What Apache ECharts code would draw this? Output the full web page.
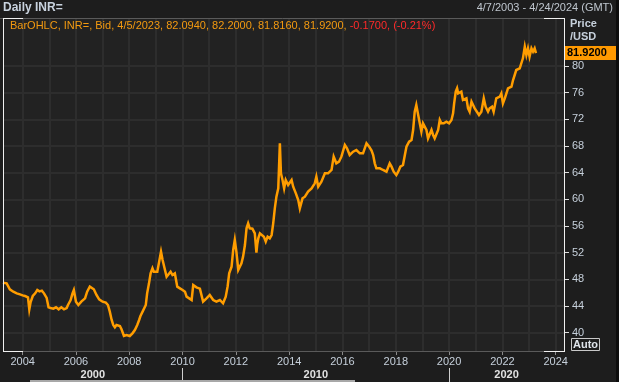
<!DOCTYPE html>
<html><head><meta charset="utf-8">
<script src="https://cdn.jsdelivr.net/npm/echarts@6/dist/echarts.min.js"></script>
<style>html,body{margin:0;padding:0;background:#1d1d1d;overflow:hidden}#c{width:619px;height:382px}</style>
</head><body><div id="c"></div>
<script>
// ---- data (decimal years and INR per USD) ----
const dateYears = [
2003.26,2003.4,2003.52,2003.65,2003.78,2003.9,2004.0,2004.09,2004.2,2004.25,2004.3,2004.38,2004.47,2004.55,2004.63,2004.72,2004.8,2004.9,2004.97,
2005.05,2005.15,2005.25,2005.35,2005.45,2005.55,2005.65,2005.7,2005.8,2005.87,2005.92,2006.0,2006.09,2006.2,2006.34,2006.42,2006.52,2006.59,2006.67,2006.77,2006.87,
2007.0,2007.12,2007.2,2007.27,2007.34,2007.4,2007.46,2007.52,2007.65,2007.71,2007.8,2007.9,2008.02,2008.12,2008.21,2008.3,2008.37,2008.42,2008.5,2008.55,2008.62,2008.67,2008.74,2008.8,2008.87,2008.92,2008.99,
2009.05,2009.12,2009.19,2009.25,2009.31,2009.4,2009.46,2009.55,2009.62,2009.71,2009.8,2009.9,2010.0,2010.09,2010.15,2010.21,2010.34,2010.4,2010.52,2010.65,2010.77,2010.9,
2011.02,2011.15,2011.27,2011.4,2011.52,2011.62,2011.69,2011.75,2011.84,2011.9,2011.96,2012.02,2012.09,2012.15,2012.21,2012.27,2012.34,2012.4,2012.46,2012.52,2012.62,2012.71,2012.77,2012.8,2012.84,2012.9,2012.96,
2013.05,2013.12,2013.19,2013.27,2013.34,2013.4,2013.46,2013.52,2013.59,2013.65,2013.69,2013.75,2013.81,2013.87,2013.96,2014.02,2014.09,2014.15,2014.25,2014.34,2014.4,2014.5,2014.59,2014.71,2014.84,2014.96,
2015.02,2015.09,2015.21,2015.34,2015.46,2015.59,2015.67,2015.77,2015.87,2015.96,2016.09,2016.17,2016.27,2016.4,2016.52,2016.65,2016.77,2016.9,2017.0,2017.09,2017.15,2017.21,2017.27,2017.4,2017.52,2017.65,2017.77,2017.84,2017.92,
2018.02,2018.09,2018.17,2018.27,2018.34,2018.4,2018.5,2018.59,2018.65,2018.71,2018.77,2018.84,2018.9,2018.96,2019.02,2019.09,2019.15,2019.21,2019.27,2019.34,2019.4,2019.46,2019.52,2019.59,2019.65,2019.71,2019.8,2019.9,
2020.0,2020.09,2020.15,2020.19,2020.25,2020.3,2020.34,2020.4,2020.46,2020.52,2020.59,2020.65,2020.71,2020.77,2020.84,2020.9,2020.96,2021.02,2021.12,2021.21,2021.3,2021.37,2021.46,2021.52,2021.61,2021.67,2021.77,2021.84,2021.9,2021.96,
2022.02,2022.09,2022.15,2022.21,2022.27,2022.34,2022.4,2022.46,2022.52,2022.59,2022.65,2022.71,2022.77,2022.84,2022.9,2022.96,2023.02,2023.09,2023.15,2023.21,2023.26
];
const prices = [
47.5,47.4,46.5,46.15,45.9,45.75,45.6,45.5,45.3,43.5,44.6,45.5,45.9,46.4,46.2,46.3,45.9,45.2,43.8,
43.7,43.6,43.8,43.5,43.8,43.5,43.7,44.15,44.9,45.9,46.4,44.65,44.15,44.65,45.15,46.15,46.9,47.0,46.5,45.65,45.0,
44.65,44.5,44.15,43.15,41.9,41.15,40.8,41.15,41.0,40.5,39.5,39.65,39.5,39.9,40.4,41.15,41.9,42.5,43.15,42.9,44.15,45.9,47.4,48.9,49.65,49.15,48.9,
49.15,50.65,52.15,50.9,49.9,48.4,48.65,49.15,48.65,48.9,46.9,46.65,46.4,46.15,45.4,45.15,44.9,47.15,46.8,46.6,44.65,45.15,
45.65,44.9,44.65,44.9,44.4,45.4,46.9,48.9,49.9,52.4,53.9,52.15,49.4,49.4,50.4,51.4,53.15,55.65,56.4,55.65,55.6,54.9,52.0,53.2,54.15,54.9,54.65,
54.4,53.65,54.4,54.15,54.65,56.4,58.65,60.4,61.65,68.4,63.9,62.9,61.65,62.9,62.15,62.4,62.9,61.9,60.9,59.9,58.65,60.15,60.4,61.15,61.65,62.4,
63.4,61.9,62.65,63.9,63.9,64.4,66.4,65.4,65.65,66.4,68.15,67.65,66.65,67.15,67.4,66.9,66.9,68.4,67.9,67.3,66.65,65.4,64.65,64.65,64.4,64.15,65.4,64.9,64.15,
63.65,64.15,64.9,65.15,66.65,67.9,68.65,68.9,70.4,73.15,74.15,72.65,71.4,70.15,71.4,71.4,70.4,69.15,69.4,70.4,69.65,69.15,68.9,70.4,71.9,71.4,71.4,71.65,
71.4,71.9,72.9,74.4,76.15,76.65,75.9,75.65,76.15,74.9,74.65,75.15,73.65,73.15,74.65,74.15,73.65,73.4,72.65,73.15,75.15,73.9,73.15,73.65,73.9,73.15,75.15,74.9,75.4,75.9,
74.4,75.15,75.9,76.65,76.4,76.9,77.9,78.15,79.4,79.4,79.65,79.9,81.15,82.9,81.65,82.65,81.4,82.65,82.15,82.65,81.92
];
const yTicks = [40,44,48,52,56,60,64,68,72,76,80];
const gridYears = [2004,2005,2006,2007,2008,2009,2010,2011,2012,2013,2014,2015,2016,2017,2018,2019,2020,2021,2022,2023,2024];
const labelYears = [2004,2006,2008,2010,2012,2014,2016,2018,2020,2022,2024];
const decadeNames = ['2000','2010','2020'];
const decadeStarts = [2010,2020];
const rangeStart = '2003-04-07', rangeEnd = '2024-04-24';
const headerTitle = 'Daily INR=';
const headerRange = '4/7/2003 - 4/24/2024 (GMT)';
const lastBar = {date:'4/5/2023', open:'82.0940', high:'82.2000', low:'81.8160', close:'81.9200', chg:'-0.1700', pct:'(-0.21%)'};

function yearToTime(y){const yr=Math.floor(y);const s=Date.UTC(yr,0,1),e=Date.UTC(yr+1,0,1);return s+(y-yr)*(e-s);}
const tMin = Date.parse(rangeStart+'T00:00:00Z'), tMax = Date.parse(rangeEnd+'T00:00:00Z');
const seriesData = dateYears.map((y,i)=>[yearToTime(y), prices[i]]);
const gridTimes = gridYears.map(y=>Date.UTC(y,0,1));
const labelTimes = labelYears.map(y=>Date.UTC(y,0,1));
const decadeTimes = decadeStarts.map(y=>Date.UTC(y,0,1));
const bounds = [tMin].concat(decadeTimes).concat([tMax]);
const decadeMids = decadeNames.map((n,i)=>(bounds[i]+bounds[i+1])/2);

const FONT = 'Liberation Sans';
const AX = '#c6d0db';
const chart = echarts.init(document.getElementById('c'), null, {renderer:'canvas'});
const G = {left:3, right:55, top:18, bottom:31};
chart.setOption({
  backgroundColor:'#1d1d1d',
  animation:false,
  grid:[{left:G.left,right:G.right,top:G.top,bottom:G.bottom,show:true,backgroundColor:'#222222',borderWidth:0}],
  xAxis:[
    {type:'value',min:tMin,max:tMax,position:'bottom',axisLine:{show:false},
     axisTick:{show:false,customValues:gridTimes},axisLabel:{show:false,customValues:gridTimes},
     splitLine:{show:true,lineStyle:{color:'#2d2d2d',width:2}}},
    {type:'value',min:tMin,max:tMax,position:'bottom',axisLine:{show:false},
     axisTick:{show:true,customValues:labelTimes,length:4,lineStyle:{color:'#8a8a8a'}},
     axisLabel:{show:true,customValues:labelTimes,margin:5,color:AX,fontFamily:FONT,fontSize:11,
       formatter:v=>String(new Date(v).getUTCFullYear())},
     splitLine:{show:false}},
    {type:'value',min:tMin,max:tMax,position:'bottom',offset:17,axisLine:{show:false},
     axisTick:{show:true,customValues:decadeTimes,length:14,lineStyle:{color:'#cfcfcf'}},
     axisLabel:{show:true,customValues:decadeMids,margin:1,color:'#e2e2e2',fontFamily:FONT,fontSize:11,fontWeight:'bold',
       formatter:v=>{let b=0,d=Infinity;decadeMids.forEach((m,i)=>{if(Math.abs(m-v)<d){d=Math.abs(m-v);b=i;}});return decadeNames[b];}},
     splitLine:{show:false}}
  ],
  yAxis:[{type:'value',position:'right',min:37.25,max:87.2,axisLine:{show:false},
    axisTick:{show:true,customValues:yTicks,length:5,lineStyle:{color:'#dddddd'}},
    axisLabel:{show:true,customValues:yTicks,margin:8,color:AX,fontFamily:FONT,fontSize:11},
    splitLine:{show:true,lineStyle:{color:'#2d2d2d',width:2}}}],
  series:[{type:'line',xAxisIndex:0,yAxisIndex:0,data:seriesData,showSymbol:false,
    lineStyle:{color:'#ff9d00',width:2.5,join:'miter'},itemStyle:{color:'#ff9d00'},z:5}]
});

const lastY = chart.convertToPixel({yAxisIndex:0}, prices[prices.length-1]);
const W=619,H=382, L=G.left, R=W-G.right, T=G.top, B=H-G.bottom;
const white='#f0f0f0', gray='#5a5a5a';
function ln(x1,y1,x2,y2,c){return {type:'line',shape:{x1,y1,x2,y2},style:{stroke:c,lineWidth:1},z:50};}
chart.setOption({graphic:[
  ln(0,T+0.5,R+1,T+0.5,gray),
  ln(L,B+0.5,R+1,B+0.5,gray),
  ln(L+0.5,T,L+0.5,B+1,white),
  ln(R+0.5,T,R+0.5,B+1,white),
  ln(L,T+0.5,L+20,T+0.5,white), ln(R-20,T+0.5,R+1,T+0.5,white),
  ln(L,B+0.5,L+20,B+0.5,white), ln(R-20,B+0.5,R+1,B+0.5,white),
  {type:'text',x:3,y:8,style:{text:headerTitle,fill:'#c9d3df',font:'bold 12px '+FONT,textVerticalAlign:'middle'},z:60},
  {type:'text',x:613,y:8,style:{text:headerRange,fill:'#bfc6ce',font:'11px '+FONT,textAlign:'right',textVerticalAlign:'middle'},z:60},
  {type:'text',x:10,y:26,z:60,style:{
     text:'{o|BarOHLC, INR=, Bid, '+lastBar.date+', '+lastBar.open+', '+lastBar.high+', '+lastBar.low+', '+lastBar.close+', }{r|'+lastBar.chg+', '+lastBar.pct+'}',
     textVerticalAlign:'middle',font:'11px '+FONT,
     rich:{o:{fill:'#f39a10',font:'11px '+FONT},r:{fill:'#ff2a2a',font:'11px '+FONT}}}},
  {type:'text',x:570,y:24,style:{text:'Price',fill:AX,font:'bold 11px '+FONT,textVerticalAlign:'middle'},z:60},
  {type:'text',x:570,y:37,style:{text:'/USD',fill:AX,font:'bold 11px '+FONT,textVerticalAlign:'middle'},z:60},
  {type:'rect',shape:{x:R+1,y:Math.round(lastY)-7,width:52,height:14},style:{fill:'#ff9900'},z:60},
  {type:'text',x:R+3,y:Math.round(lastY),style:{text:prices[prices.length-1].toFixed(4),fill:'#000',font:'bold 11px '+FONT,textVerticalAlign:'middle'},z:61},
  {type:'rect',shape:{x:571.5,y:338.5,width:28,height:12},style:{fill:'none',stroke:'#c8c8c8',lineWidth:1},z:60},
  {type:'text',x:585.5,y:345,style:{text:'Auto',fill:'#dfe4ea',font:'bold 11px '+FONT,textAlign:'center',textVerticalAlign:'middle'},z:61},
  {type:'rect',shape:{x:30,y:380,width:325,height:2},style:{fill:'#a8a8a8'},z:60},
  {type:'rect',shape:{x:616,y:0,width:3,height:382},style:{fill:'#0d0d0d'},z:60}
]});
</script></body></html>
